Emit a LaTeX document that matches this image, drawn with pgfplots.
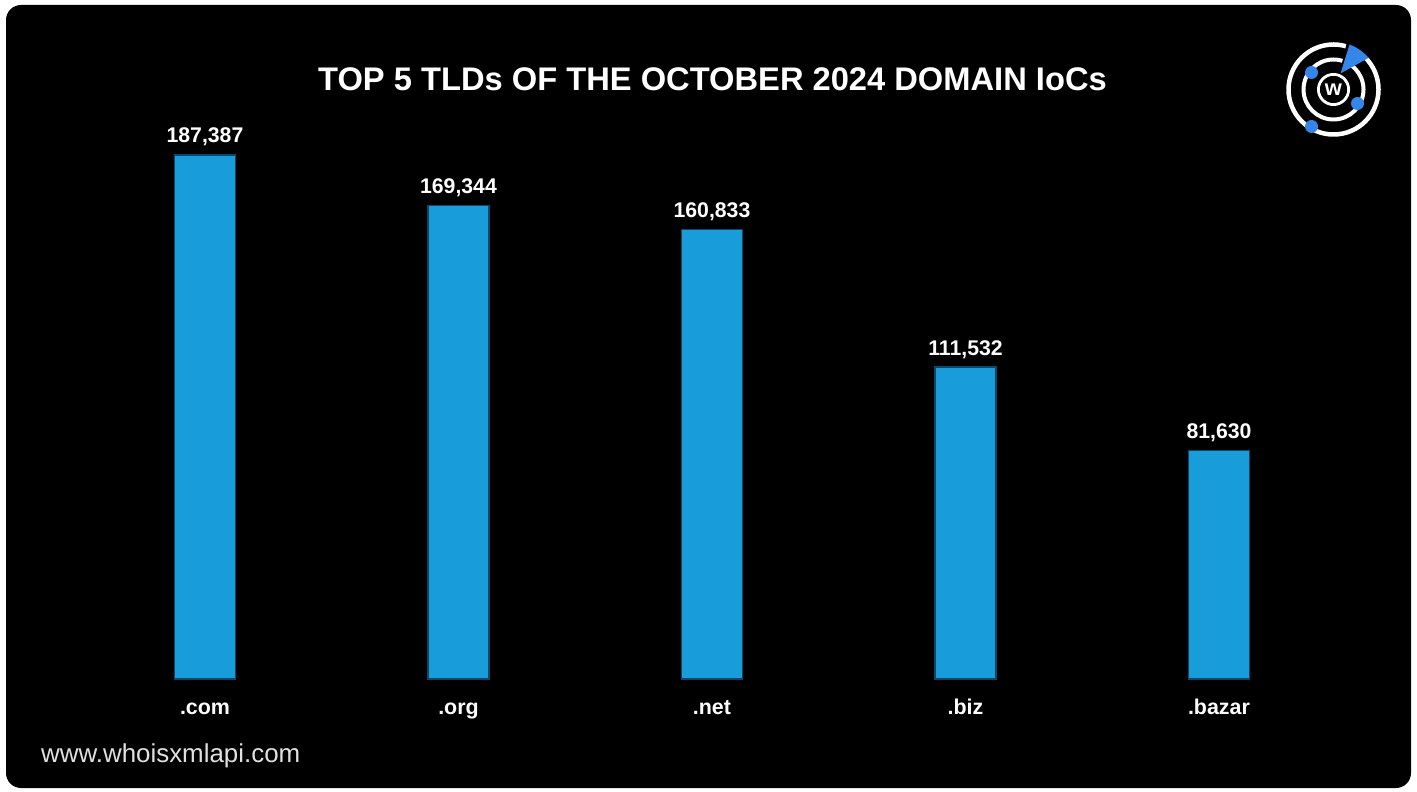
\documentclass[border=0pt]{standalone}
\usepackage{pgfplots}
\pgfplotsset{compat=1.18}
\usepackage{fontspec}
\setmainfont{Liberation Sans}
\definecolor{barblue}{RGB}{24,157,218}
\definecolor{baredge}{RGB}{12,70,105}
\definecolor{logoblue}{RGB}{52,135,232}
\begin{document}
\begin{tikzpicture}[x=1bp,y=1bp]
% canvas (pixel grid: tikz y = 791 - pixel y)
\fill[white] (0,0) rectangle (1417,791);
\fill[black, rounded corners=15bp] (6,3) rectangle (1411,786);
% title
\node[text=white, font=\fontsize{32.8}{38}\selectfont\bfseries, anchor=center] at (712.5,712) {TOP 5 TLDs OF THE OCTOBER 2024 DOMAIN IoCs};
% footer
\node[text=white!88!black, font=\fontsize{26}{30}\selectfont, anchor=base west, inner sep=0] at (41,29) {www.whoisxmlapi.com};
% logo
\begin{scope}[shift={(1333.5,701.5)}]
  \draw[white, line width=4.5bp] (0,0) circle (45);
  \draw[white, line width=4bp] (0,0) circle (30);
  \draw[white, line width=3bp] (0,0) circle (15);
  \fill[black] (0,0) circle (13.5);
  \node[text=white, font=\fontsize{22}{24}\selectfont\bfseries] at (0,-0.5) {w};
  \fill[black] (6,16) -- (14,50) -- (42,36) -- cycle;
  \fill[logoblue] (7,16) -- (16,45) arc (70:40:45) -- cycle;
  \fill[logoblue] (-22,17) circle (6.5);
  \fill[logoblue] (24,-14) circle (6.5);
  \fill[logoblue] (-22,-37) circle (6.5);
\end{scope}
\begin{axis}[
  at={(78.25bp,112bp)}, anchor=south west,
  scale only axis, width=1267.5bp, height=559.3bp,
  xmin=-0.5, xmax=4.5, ymin=0, ymax=200000,
  clip=false,
  hide y axis,
  axis x line*=bottom,
  x axis line style={draw=none},
  xtick style={draw=none},
  major tick length=0pt,
  xtick={0,1,2,3,4},
  xticklabels={.com,.org,.net,.biz,.bazar},
  xticklabel style={text=white, font=\fontsize{21.5}{26}\selectfont\bfseries, anchor=base, inner sep=0pt, yshift=-36bp},
  ybar, bar width=61bp,
  /pgf/number format/.cd, fixed, 1000 sep={,}, assume math mode=true,
  /pgfplots/.cd,
  nodes near coords,
  every node near coord/.append style={text=white, font=\fontsize{21.3}{26}\selectfont\bfseries, anchor=base, inner sep=0pt, yshift=12bp},
]
\addplot[fill=barblue, draw=baredge, line width=1.2bp] coordinates {(0,187387) (1,169344) (2,160833) (3,111532) (4,81630)};
\end{axis}
\end{tikzpicture}
\end{document}
